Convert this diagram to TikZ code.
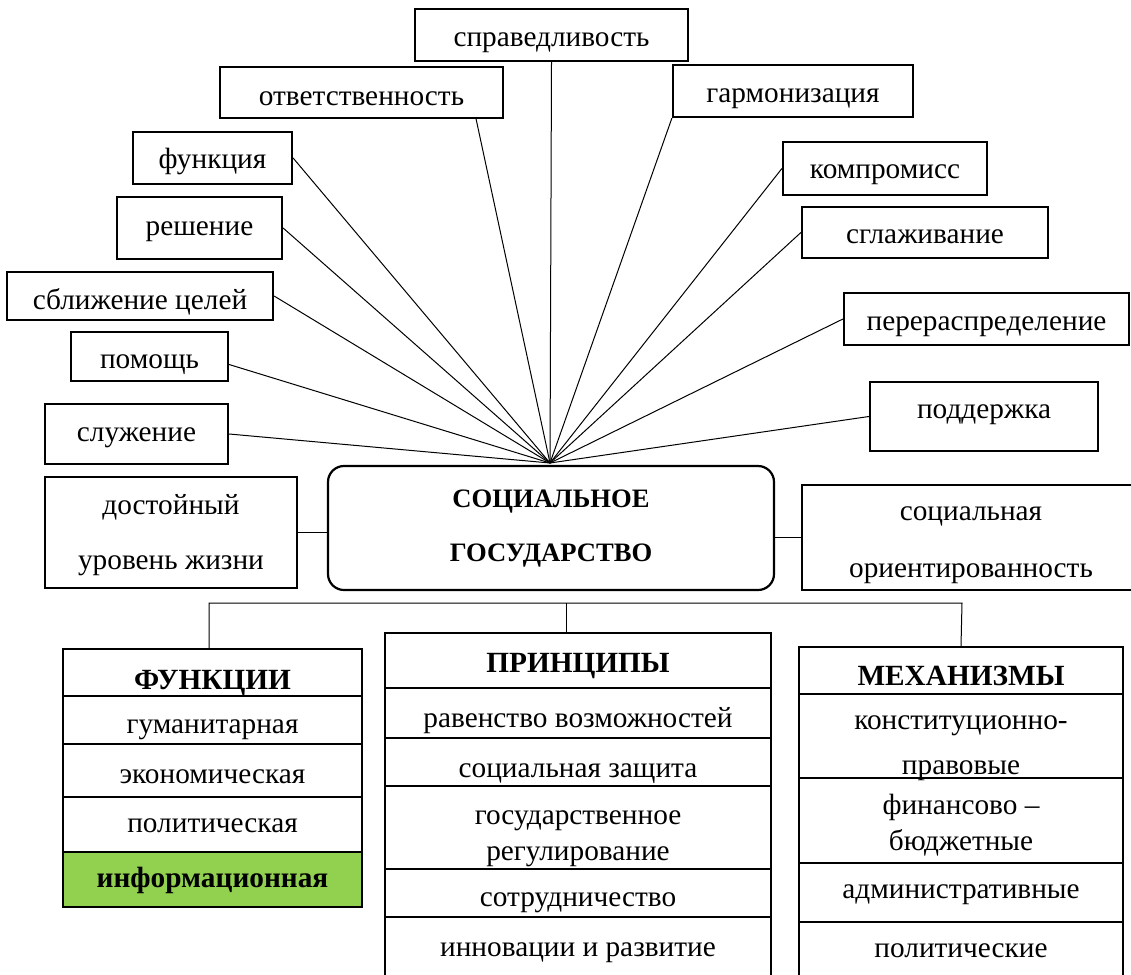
\documentclass[tikz,border=0pt]{standalone}
\usepackage{fontspec}
\setmainfont{Liberation Serif}
\usepackage{tikz}
\usetikzlibrary{positioning}
\definecolor{vertclair}{HTML}{92D050}
% struts pour caler les textes sur deux lignes
\newcommand{\haut}[1]{\rule{0pt}{#1pt}}
\newcommand{\bas}[1]{\rule[-#1pt]{0pt}{#1pt}}

\begin{document}
\begin{tikzpicture}[
		x=1pt, y=-1pt,
		cadre/.style={draw, line width=2.2pt, inner sep=0pt, font=\fontsize{29.3}{35}\selectfont, text height=22pt, text depth=0pt},
		titre/.style={cadre, font=\fontsize{29.3}{35}\selectfont\bfseries},
		lignes/.style={align=center, inner ysep=-15pt, text height=, text depth=, font=\fontsize{29.3}{#1}\selectfont},
		decal/.style={text height=#1, text depth=0pt},
		lien/.style={line width=1pt}
		]
		\useasboundingbox (0,0) rectangle (1131,974);
		\clip (0,0) rectangle (1131,974);
		
		% Le centre
		\node[cadre, rounded corners=16pt, minimum width=446pt, minimum height=124pt, lignes=54, font=\fontsize{26.6}{54}\selectfont\bfseries] (etat) at (551,528) {\haut{22}СОЦИАЛЬНОЕ\\ГОСУДАРСТВО\bas{10}};
		\coordinate (hub) at (550,463);
		\node[cadre, minimum width=252pt, minimum height=111pt, lignes=55] (niveau) at (171,532.5) {\haut{28}достойный\\уровень жизни\bas{10}};
		\node[cadre, minimum width=338pt, minimum height=105pt, lignes=57] (orient) at (971,537.5) {\haut{32}социальная\\ориентированность\bas{10}};
		
		% Les notions autour
		\node[cadre, minimum width=273pt, minimum height=52pt] (justice) at (551.5,35) {справедливость};
		\node[cadre, minimum width=283pt, minimum height=51pt, decal=25pt] (respons) at (361.5,92.5) {ответственность};
		\node[cadre, minimum width=240pt, minimum height=52pt] (harmon) at (793,91) {гармонизация};
		\node[cadre, minimum width=159pt, minimum height=52pt, decal=20pt] (fonction) at (212.5,158) {функция};
		\node[cadre, minimum width=204pt, minimum height=53pt, decal=19pt] (compromis) at (885,168.5) {компромисс};
		\node[cadre, minimum width=165pt, minimum height=62pt, decal=15pt] (decision) at (199.5,228) {решение};
		\node[cadre, minimum width=246pt, minimum height=51pt, decal=21pt] (lissage) at (925,232.5) {сглаживание};
		\node[cadre, minimum width=266pt, minimum height=48pt, decal=26pt] (rappro) at (140,296) {сближение целей};
		\node[cadre, minimum width=285pt, minimum height=52pt] (redistr) at (986.5,319) {перераспределение};
		\node[cadre, minimum width=157pt, minimum height=49pt, decal=23pt] (aide) at (149.5,356.5) {помощь};
		\node[cadre, minimum width=228pt, minimum height=69pt, decal=3pt] (soutien) at (984,416.5) {поддержка};
		\node[cadre, minimum width=183pt, minimum height=60pt, decal=15pt] (service) at (136.5,434) {служение};
		
		% Les rayons
		\draw[lien] (justice.south) -- (hub);
		\draw[lien] ([xshift=-28pt]respons.south east) -- (hub);
		\draw[lien] (harmon.south west) -- (hub);
		\draw[lien] (fonction.east) -- (hub);
		\draw[lien] (compromis.west) -- (hub);
		\draw[lien] (decision.east) -- (hub);
		\draw[lien] (lissage.west) -- (hub);
		\draw[lien] (rappro.east) -- (hub);
		\draw[lien] (redistr.west) -- (hub);
		\draw[lien] ([yshift=-8pt]aide.east) -- (hub);
		\draw[lien] (soutien.west) -- (hub);
		\draw[lien] (service.east) -- (hub);
		\draw[lien] (niveau.east) -- (niveau.east -| etat.west);
		\draw[lien] (orient.west) -- (orient.west -| etat.east);
		
		% Fonctions
		\node[titre, minimum width=299pt, minimum height=47pt, decal=33pt] (f0) at (212.5,672.5) {ФУНКЦИИ};
		\node[cadre, minimum width=299pt, minimum height=48pt, decal=26pt] (f1) at (212.5,720) {гуманитарная};
		\node[cadre, minimum width=299pt, minimum height=53pt, decal=25pt] (f2) at (212.5,770.5) {экономическая};
		\node[cadre, minimum width=299pt, minimum height=55pt, decal=15pt] (f3) at (212.5,824.5) {политическая};
		\node[titre, fill=vertclair, minimum width=299pt, minimum height=55pt, decal=15pt] (f4) at (212.5,879.5) {информационная};
		
		% Principes
		\node[titre, minimum width=386pt, minimum height=55pt, decal=23pt] (p0) at (578,660.5) {ПРИНЦИПЫ};
		\node[cadre, minimum width=386pt, minimum height=50pt, decal=28pt] (p1) at (578,713) {равенство возможностей};
		\node[cadre, minimum width=386pt, minimum height=48pt, decal=30pt] (p2) at (578,762) {социальная защита};
		\node[cadre, minimum width=386pt, minimum height=83pt, lignes=36] (p3) at (578,827.5) {\haut{36}государственное\\регулирование\bas{7}};
		\node[cadre, minimum width=386pt, minimum height=48pt, decal=26pt] (p4) at (578,893) {сотрудничество};
		\node[cadre, minimum width=386pt, minimum height=68pt, decal=10pt] (p5) at (578,951) {инновации и развитие};
		
		% Mecanismes
		\node[titre, minimum width=324pt, minimum height=47pt, decal=29pt] (m0) at (961,670.5) {МЕХАНИЗМЫ};
		\node[cadre, minimum width=324pt, minimum height=84pt, lignes=45] (m1) at (961,736) {\haut{39}конституционно-\\правовые\bas{8}};
		\node[cadre, minimum width=324pt, minimum height=85pt, lignes=36] (m2) at (961,820.5) {\haut{31}финансово –\\бюджетные\bas{8}};
		\node[cadre, minimum width=324pt, minimum height=59pt, decal=11pt] (m3) at (961,892.5) {административные};
		\node[cadre, minimum width=324pt, minimum height=68pt, decal=2pt] (m4) at (961,956) {политические};
		
		% Le bus du bas
		\coordinate (busG) at (209,603);
		\coordinate (busD) at (962,603);
		\draw[lien] ([xshift=-3.5pt]f0.north) -- (busG) -- (busD) -- (m0.north);
		\draw[lien] ([xshift=-12pt]p0.north) -- ([xshift=-12pt]p0.north |- busG);
	\end{tikzpicture}
\end{document}
